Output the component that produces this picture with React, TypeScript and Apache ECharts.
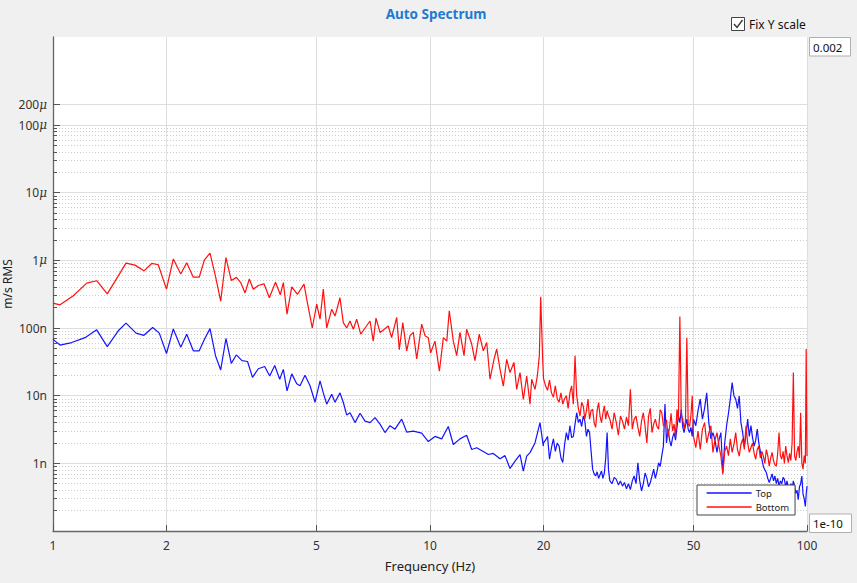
import React, { useEffect, useRef } from "react";
import * as echarts from "echarts";

// ---- axis ticks / labels ----
const xTickValues = [1, 2, 5, 10, 20, 50, 100];
const xTickLabels = ["1", "2", "5", "10", "20", "50", "100"];
const yTickValues = [1e-9, 1e-8, 1e-7, 1e-6, 1e-5, 1e-4, 2e-4];
const yTickLabels = ["1n", "10n", "100n", "1{mu|μ}", "10{mu|μ}", "100{mu|μ}", "200{mu|μ}"];
const yMin = 1e-10;
const yMax = 0.002;
const xMin = 1;
const xMax = 100;
const minorDigits = [2, 3, 4, 5, 6, 7, 8, 9];
const minorDecades = [1e-10, 1e-9, 1e-8, 1e-7, 1e-6, 1e-5];

// ---- series: frequency (Hz) and amplitude (in n = 1e-9 m/s RMS) ----
// 1 – 20 Hz
const topFreqLow = [
  1.0, 1.044, 1.121, 1.216, 1.306, 1.393, 1.49, 1.562, 1.661, 1.743,
  1.838, 1.914, 2.0, 2.085, 2.182, 2.263, 2.356, 2.443, 2.522, 2.609,
  2.698, 2.785, 2.876, 2.971, 3.063, 3.172, 3.281, 3.382, 3.504, 3.643,
  3.757, 3.874, 3.994, 4.083, 4.176, 4.298, 4.431, 4.521, 4.661, 4.806,
  4.955, 5.109, 5.212, 5.321, 5.487, 5.598, 5.771, 5.888, 6.012, 6.135,
  6.326, 6.522, 6.725, 6.933, 7.147, 7.369, 7.597, 7.832, 8.075, 8.412,
  8.673, 9.031, 9.506, 9.897, 10.31, 10.74, 11.18, 11.53, 12.01, 12.51,
  12.9, 13.3, 13.85, 14.28, 14.72, 15.34, 15.81, 16.3, 16.81, 17.33,
  17.68, 18.05, 18.42, 18.99, 19.58, 19.98,
];
const topValLow = [
  68, 56, 61, 72, 94, 53, 91, 118, 84, 78,
  102, 84, 42, 97, 52, 81, 46, 46, 68, 98,
  39, 24, 70, 30, 40, 33, 32, 18.6, 25, 27,
  19.5, 28, 17.5, 24.5, 11.8, 21, 15, 14, 20, 14,
  8, 16.5, 11, 7.5, 10.5, 8, 11, 8, 5.2, 5.6,
  4.0, 5.5, 4.2, 4.0, 4.75, 3.8, 2.85, 3.6, 3.2, 4.5,
  2.9, 3.0, 2.8, 2.1, 2.5, 2.3, 3.5, 1.9, 2.3, 2.6,
  1.6, 1.7, 1.5, 1.35, 1.4, 1.17, 1.3, 0.84, 1.08, 1.35,
  0.77, 1.28, 1.44, 2.0, 4.0, 1.8,
];
const bottomFreqLow = [
  1.0, 1.044, 1.132, 1.229, 1.306, 1.393, 1.49, 1.562, 1.65, 1.743,
  1.828, 1.902, 2.0, 2.085, 2.182, 2.263, 2.356, 2.443, 2.522, 2.609,
  2.698, 2.785, 2.876, 2.971, 3.066, 3.147, 3.232, 3.317, 3.399, 3.504,
  3.628, 3.748, 3.893, 4.008, 4.083, 4.176, 4.298, 4.452, 4.633, 4.727,
  4.873, 5.006, 5.109, 5.212, 5.321, 5.487, 5.598, 5.771, 5.888, 6.012,
  6.135, 6.26, 6.39, 6.55, 6.725, 6.933, 7.07, 7.19, 7.369, 7.565,
  7.75, 7.91, 8.16, 8.29, 8.47, 8.673, 8.85, 9.031, 9.22, 9.506,
  9.7, 9.897, 10.04, 10.31, 10.59, 10.85, 11.08, 11.25, 11.53, 11.77,
  12.01, 12.31, 12.51, 12.9, 13.16, 13.51, 13.85, 14.14, 14.43, 14.78,
  15.03, 15.34, 15.65, 15.97, 16.3, 16.7, 16.98, 17.33, 17.68, 18.05,
  18.42, 18.61, 18.99, 19.26, 19.5, 19.66, 19.9,
];
const bottomValLow = [
  233, 220, 300, 460, 500, 320, 590, 910, 850, 700,
  900, 860, 375, 1050, 630, 920, 565, 565, 1020, 1280,
  580, 250, 1100, 505, 560, 470, 330, 530, 375, 425,
  450, 280, 475, 310, 470, 160, 405, 315, 445, 240,
  100, 225, 135, 375, 100, 190, 150, 280, 120, 100,
  127, 96, 135, 81, 100, 127, 64, 140, 86, 96,
  107, 72, 143, 48, 120, 46, 77, 86, 35, 114,
  77, 72, 43, 64, 23, 72, 64, 180, 64, 39,
  86, 39, 96, 58, 33, 81, 46, 61, 17.5, 34.5,
  49, 24.5, 13.8, 34.5, 22, 31, 12.4, 22, 8.8, 19.5,
  7.5, 17.5, 12.4, 19.5, 39, 290, 35,
];
// 20 – 100 Hz (shared frequency bins)
const hiFreq = [
  20.0, 20.25, 20.5, 20.75, 21.0, 21.25, 21.5, 21.75, 22.0, 22.25,
  22.5, 22.75, 23.0, 23.25, 23.5, 23.75, 24.0, 24.25, 24.5, 24.75,
  25.0, 25.25, 25.5, 25.75, 26.0, 26.25, 26.5, 26.75, 27.0, 27.25,
  27.5, 27.75, 28.0, 28.25, 28.5, 28.75, 29.0, 29.25, 29.5, 29.75,
  30.0, 30.4, 30.8, 31.2, 31.6, 32.0, 32.4, 32.8, 33.2, 33.6,
  34.0, 34.4, 34.8, 35.2, 35.6, 36.0, 36.4, 36.8, 37.2, 37.6,
  38.0, 38.4, 38.8, 39.2, 39.6, 40.0, 40.4, 40.8, 41.2, 41.6,
  42.0, 42.4, 42.8, 43.2, 43.6, 44.0, 44.4, 44.8, 45.2, 45.6,
  46.0, 46.4, 46.8, 47.2, 47.6, 48.0, 48.4, 48.8, 49.2, 49.6,
  50.0, 50.7, 51.4, 52.1, 52.8, 53.5, 54.2, 54.9, 55.6, 56.3,
  57.0, 57.7, 58.4, 59.1, 59.8, 60.5, 61.2, 61.9, 62.6, 63.3,
  64.0, 64.7, 65.4, 66.1, 66.8, 67.5, 68.2, 68.9, 69.6, 70.3,
  71.0, 71.7, 72.4, 73.1, 73.8, 74.5, 75.2, 75.9, 76.6, 77.3,
  78.0, 78.7, 79.4, 80.1, 80.8, 81.5, 82.2, 82.9, 83.6, 84.3,
  85.0, 85.7, 86.4, 87.1, 87.8, 88.5, 89.2, 89.9, 90.6, 91.3,
  92.0, 92.7, 93.4, 94.1, 94.8, 95.5, 96.2, 96.9, 97.6, 98.3,
  99.0, 99.5, 100,
];
const topValHi = [
  2.0, 2.2, 2.5, 1.15, 1.7, 2.3, 1.5, 2.0, 1.8, 1.2,
  1.03, 1.9, 2.85, 2.2, 3.6, 2.4, 2.5, 3.8, 5.6, 4.0,
  4.5, 3.5, 5.0, 4.2, 2.5, 3.2, 2.85, 1.5, 0.82, 0.7,
  0.65, 0.75, 0.6, 0.68, 0.77, 0.6, 0.72, 1.2, 2.85, 0.8,
  0.55, 0.5, 0.62, 0.58, 0.48, 0.55, 0.46, 0.52, 0.42, 0.5,
  0.41, 0.55, 0.65, 0.5, 1.02, 0.55, 0.39, 0.5, 0.72, 0.6,
  0.45, 0.52, 0.65, 0.82, 0.6, 0.75, 1.02, 0.9, 1.3, 1.8,
  7.5, 2.0, 3.2, 2.2, 1.8, 2.4, 2.85, 2.2, 3.4, 5.0,
  4.0, 6.3, 3.5, 2.85, 3.6, 4.5, 3.2, 2.85, 3.4, 2.5,
  4.5, 3.6, 6.0, 8.9, 4.5, 6.5, 11, 4.0, 2.3, 2.85,
  2.2, 1.45, 2.2, 2.85, 0.73, 2.0, 3.6, 5.5, 8.9, 15.6,
  10, 8.9, 6.5, 9.9, 4.0, 2.85, 1.8, 2.6, 4.5, 2.5,
  3.6, 2.4, 1.8, 2.2, 3.2, 2.0, 1.5, 1.15, 0.9, 0.8,
  0.73, 0.6, 0.52, 0.6, 0.7, 0.55, 0.65, 0.5, 0.6, 0.46,
  0.55, 0.5, 0.62, 0.58, 0.45, 0.55, 0.42, 0.37, 0.5, 0.42,
  0.55, 0.46, 0.36, 0.4, 0.29, 0.45, 0.5, 0.65, 0.35, 0.3,
  0.23, 0.35, 0.46,
];
const bottomValHi = [
  18, 14, 12, 17, 11, 9.5, 14, 9, 8, 11,
  7.5, 9, 10, 6.5, 11, 14, 7.5, 39, 10, 6.5,
  5, 8, 7, 4.5, 6, 8.9, 4.5, 6, 6.3, 4,
  3.4, 6, 7.9, 5, 4, 5.5, 7.1, 4.5, 6, 5,
  4.5, 3.2, 5.6, 4, 2.6, 5, 4.2, 3.2, 4.8, 3.6,
  12.4, 3.2, 4.5, 5, 3.4, 2.5, 4.2, 5.6, 3.5, 2.0,
  5, 6.5, 2.85, 3.8, 4.5, 3.5, 3.2, 6.2, 5.6, 3.6,
  3.6, 4.4, 2.5, 3.4, 5.5, 3.0, 3.8, 2.5, 6.3, 4.4,
  148, 5, 4.6, 3.2, 4.2, 72, 3.8, 3.5, 5, 10,
  2.5, 1.7, 3.0, 1.6, 3.2, 4.0, 2.0, 2.8, 3.6, 1.45,
  2.2, 2.85, 1.8, 1.28, 0.69, 1.5, 1.8, 1.3, 2.3, 1.45,
  1.9, 2.85, 1.6, 1.28, 1.9, 2.3, 1.6, 3.6, 2.0, 1.45,
  1.7, 2.0, 1.4, 1.15, 1.6, 1.8, 1.2, 1.5, 1.28, 1.0,
  1.6, 1.3, 0.91, 1.2, 1.45, 1.1, 0.95, 0.91, 1.4, 2.85,
  1.3, 1.15, 1.5, 1.0, 1.8, 1.3, 1.02, 1.4, 1.1, 2.0,
  22, 1.28, 1.1, 1.5, 1.8, 1.2, 5.6, 1.0, 0.82, 1.3,
  1.0, 49, 1.28,
];

const NANO = 1e-9;
const FONT = "Noto Sans";

function near(a: number, b: number) {
  return Math.abs(Math.log10(a) - Math.log10(b)) < 1e-3;
}

export default function App() {
  const ref = useRef<HTMLDivElement | null>(null);

  useEffect(() => {
    document.body.style.margin = "0";
    document.body.style.background = "#f0f0f0";
    if (!ref.current) return;
    const chart = echarts.init(ref.current, undefined, { renderer: "svg" });

    const minorValues: number[] = [];
    minorDecades.forEach((d) => minorDigits.forEach((m) => minorValues.push(m * d)));

    const topData = topFreqLow
      .map((f, i) => [f, topValLow[i] * NANO])
      .concat(hiFreq.map((f, i) => [f, topValHi[i] * NANO]));
    const bottomData = bottomFreqLow
      .map((f, i) => [f, bottomValLow[i] * NANO])
      .concat(hiFreq.map((f, i) => [f, bottomValHi[i] * NANO]));

    const option: any = {
      animation: false,
      backgroundColor: "#f0f0f0",
      textStyle: { fontFamily: FONT },
      grid: {
        left: 53,
        right: 50,
        top: 37,
        bottom: 52,
        show: true,
        backgroundColor: "#ffffff",
        borderWidth: 0,
        containLabel: false,
        outerBoundsMode: "none",
      },
      legend: {
        data: ["Top", "Bottom"],
        orient: "vertical",
        left: 697,
        top: 485,
        backgroundColor: "#ffffff",
        borderColor: "#444444",
        borderWidth: 1,
        borderRadius: 0,
        padding: [3, 6, 3, 9],
        itemWidth: 45,
        itemHeight: 10,
        itemGap: 4,
        itemStyle: { opacity: 0 },
        lineStyle: { width: 1.3 },
        textStyle: { fontSize: 9.5, color: "#222", fontFamily: FONT, padding: [0, 0, 0, -1] },
      },
      xAxis: {
        type: "log",
        logBase: 10,
        min: xMin,
        max: xMax,
        name: "Frequency (Hz)",
        nameLocation: "middle",
        nameGap: 28,
        nameMoveOverlap: false,
        nameTextStyle: { fontSize: 13, color: "#222", fontFamily: FONT },
        axisLine: { onZero: false, lineStyle: { color: "#666", width: 1.3 } },
        axisTick: {
          show: true,
          inside: true,
          length: 6,
          customValues: xTickValues,
          lineStyle: { color: "#555" },
        },
        axisLabel: {
          customValues: xTickValues,
          fontSize: 12,
          color: "#333",
          margin: 8,
          fontFamily: FONT,
          formatter: (v: number) => {
            const i = xTickValues.findIndex((t) => near(t, v));
            return i >= 0 ? xTickLabels[i] : "";
          },
        },
        splitLine: { show: true, lineStyle: { color: "#dedede", width: 1 } },
        minorTick: { show: false },
        minorSplitLine: { show: false },
      },
      yAxis: [
        {
          type: "log",
          logBase: 10,
          min: yMin,
          max: yMax,
          name: "m/s RMS",
          nameLocation: "middle",
          nameGap: 40,
          nameMoveOverlap: false,
          nameTextStyle: { fontSize: 12, lineHeight: 12, color: "#222", fontFamily: FONT },
          axisLine: { show: true, onZero: false, lineStyle: { color: "#666", width: 1.3 } },
          axisTick: {
            show: true,
            inside: true,
            length: 7,
            customValues: yTickValues,
            lineStyle: { color: "#555" },
          },
          axisLabel: {
            customValues: yTickValues,
            fontSize: 12,
            color: "#333",
            margin: 6,
            fontFamily: FONT,
            formatter: (v: number) => {
              const i = yTickValues.findIndex((t) => near(t, v));
              return i >= 0 ? yTickLabels[i] : "";
            },
            rich: {
              mu: {
                fontStyle: "italic",
                fontSize: 12,
                color: "#333",
                fontFamily: "DejaVu Serif",
              },
            },
          },
          splitLine: { show: true, lineStyle: { color: "#dedede", width: 1 } },
          minorTick: { show: false },
          minorSplitLine: { show: false },
        },
        {
          type: "log",
          logBase: 10,
          min: yMin,
          max: yMax,
          position: "left",
          axisLine: { show: false },
          axisLabel: { show: false, customValues: minorValues },
          axisTick: {
            show: true,
            inside: true,
            length: 4,
            customValues: minorValues,
            lineStyle: { color: "#555" },
          },
          splitLine: {
            show: true,
            lineStyle: { color: "#cccccc", width: 1, type: [1, 2] },
          },
          minorTick: { show: false },
          minorSplitLine: { show: false },
        },
      ],
      series: [
        {
          name: "Top",
          type: "line",
          data: topData,
          showSymbol: false,
          symbol: "none",
          lineStyle: { color: "#1414ff", width: 1.2 },
          itemStyle: { color: "#1414ff" },
          clip: true,
        },
        {
          name: "Bottom",
          type: "line",
          data: bottomData,
          showSymbol: false,
          symbol: "none",
          lineStyle: { color: "#ff1010", width: 1.2 },
          itemStyle: { color: "#ff1010" },
          clip: true,
        },
      ],
      graphic: [
        {
          type: "text",
          x: 436,
          y: 14,
          style: {
            text: "Auto Spectrum",
            fill: "#1e7bd0",
            font: `bold 13.5px "${FONT}"`,
            textAlign: "center",
            textVerticalAlign: "middle",
          },
        },
        {
          type: "rect",
          shape: { x: 731.5, y: 17.5, width: 13, height: 13 },
          style: { fill: "#ffffff", stroke: "#444", lineWidth: 1 },
        },
        {
          type: "polyline",
          shape: { points: [[734, 24], [737, 27.5], [742.5, 20]] },
          style: { stroke: "#333", lineWidth: 1.3, fill: null },
        },
        {
          type: "text",
          x: 749,
          y: 24,
          style: {
            text: "Fix Y scale",
            fill: "#111",
            font: `12px "${FONT}"`,
            textAlign: "left",
            textVerticalAlign: "middle",
          },
        },
        {
          type: "rect",
          shape: { x: 809.5, y: 37.5, width: 41, height: 18.5 },
          style: { fill: "#ffffff", stroke: "#b0b0b0", lineWidth: 1 },
        },
        {
          type: "text",
          x: 813,
          y: 47,
          style: {
            text: "0.002",
            fill: "#111",
            font: `11.5px "${FONT}"`,
            textAlign: "left",
            textVerticalAlign: "middle",
          },
        },
        {
          type: "rect",
          shape: { x: 809.5, y: 514, width: 42, height: 18.5 },
          style: { fill: "#ffffff", stroke: "#b0b0b0", lineWidth: 1 },
        },
        {
          type: "text",
          x: 813,
          y: 523.5,
          style: {
            text: "1e-10",
            fill: "#111",
            font: `11.5px "${FONT}"`,
            textAlign: "left",
            textVerticalAlign: "middle",
          },
        },
      ],
    };

    chart.setOption(option);
    return () => {
      chart.dispose();
    };
  }, []);

  return <div ref={ref} style={{ width: 857, height: 583, background: "#f0f0f0" }} />;
}
